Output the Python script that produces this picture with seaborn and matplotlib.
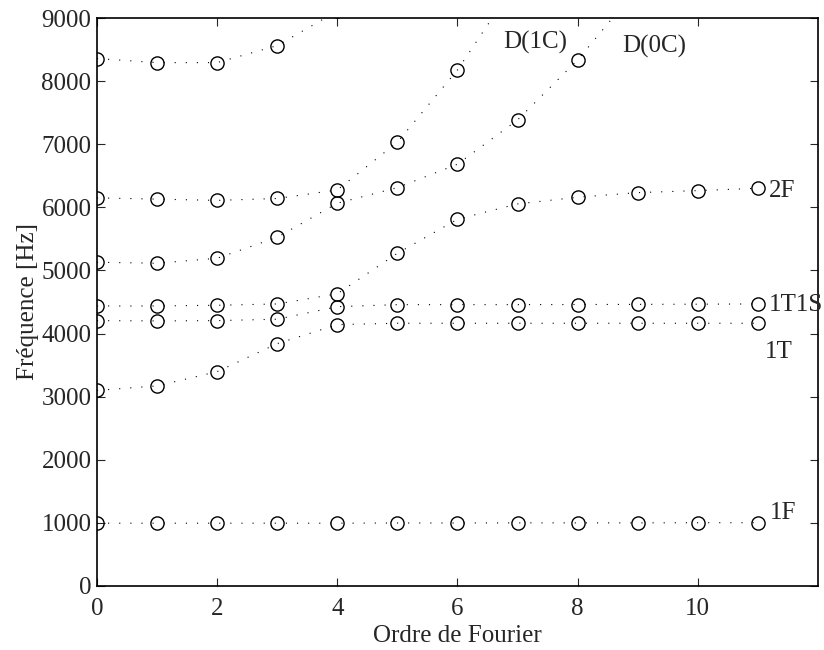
import numpy as np
import pandas as pd
import matplotlib
matplotlib.use("Agg")
import matplotlib.pyplot as plt
import seaborn as sns

# ordre de Fourier
ordres = list(range(12))

# fréquences propres triées par rang (Hz); la dernière valeur sort du cadre
mode1 = [995, 995, 995, 995, 995, 998, 998, 1000, 1000, 1000, 1002, 1003]
mode2 = [3100, 3170, 3396, 3840, 4141, 4163, 4163, 4163, 4163, 4163, 4163, 4163]
mode3 = [4205, 4200, 4205, 4227, 4426, 4458, 4458, 4458, 4460, 4462, 4465, 4469]
mode4 = [4437, 4437, 4448, 4469, 4630, 5272, 5811, 6054, 6160, 6233, 6265, 6302]
mode5 = [5130, 5114, 5193, 5526, 6065, 6312, 6683, 7385, 8336, 9480]
mode6 = [6150, 6130, 6110, 6140, 6276, 7032, 8177, 9600]
mode7 = [8357, 8293, 8293, 8563, 9110]

modes = [mode1, mode2, mode3, mode4, mode5, mode6, mode7]

# étiquettes des branches
etiquettes = ["D(1C)", "D(0C)", "2F", "1T1S", "1T", "1F"]
etiq_x = [6.76, 8.74, 11.18, 11.18, 11.12, 11.2]
etiq_y = [8605, 8547, 6260, 4453, 3713, 1157]

rows = []
for k, m in enumerate(modes):
    for o, f in zip(ordres, m):
        rows.append({"mode": k + 1, "ordre": o, "freq": f})
df = pd.DataFrame(rows)

sns.set_style("ticks")
plt.rcParams["font.family"] = ["Liberation Serif", "DejaVu Serif"]
plt.rcParams["font.size"] = 18

fig = plt.figure(figsize=(8.24, 6.5), dpi=100)
ax = fig.add_axes([0.1177, 0.0985, 0.875, 0.8738])

sns.lineplot(data=df, x="ordre", y="freq", units="mode", estimator=None,
             color="black", linestyle=(0, (1, 9)), linewidth=0.8,
             marker="o", markersize=9.5, markerfacecolor="none",
             markeredgecolor="black", markeredgewidth=1.0,
             sort=False, legend=False, ax=ax)

for t, x, y in zip(etiquettes, etiq_x, etiq_y):
    ax.text(x, y, t, fontsize=18, va="center", ha="left")

ax.set_xlim(0, 12)
ax.set_ylim(0, 9000)
ax.set_xticks([0, 2, 4, 6, 8, 10])
ax.set_yticks(np.arange(0, 9001, 1000))
ax.tick_params(direction="in", length=6, width=0.8, top=True, right=True,
               labelsize=18)
ax.tick_params(axis="x", pad=8.5)
ax.tick_params(axis="y", pad=4)
for s in ax.spines.values():
    s.set_linewidth(1.2)
    s.set_color("black")
ax.set_xlabel("Ordre de Fourier", fontsize=18, labelpad=4)
ax.set_ylabel("Fréquence [Hz]", fontsize=18, labelpad=2)

fig.savefig("out.png", dpi=100)
